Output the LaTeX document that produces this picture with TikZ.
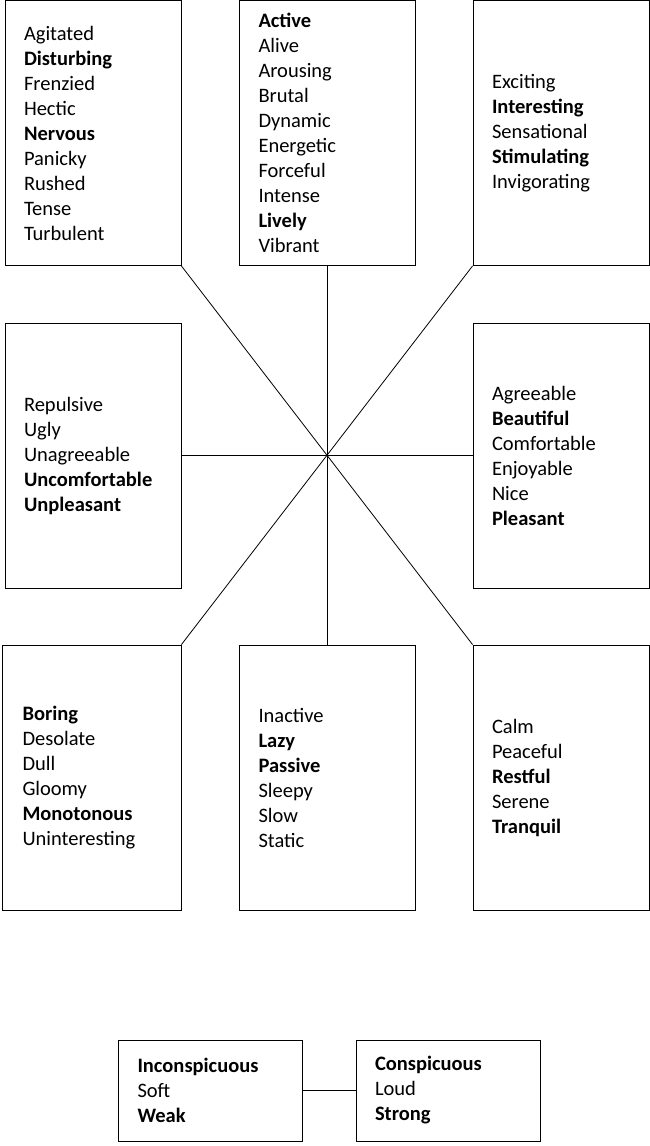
\documentclass[tikz,border=0pt]{standalone}
\usepackage{fontspec}
\setmainfont{Carlito}
\usepackage{tikz}
\usetikzlibrary{positioning}
\tikzstyle{wordbox} = [rectangle, draw=black, thick, inner sep=0pt, align=left, font=\fontsize{20.5}{25}\selectfont]
\tikzstyle{tall} = [wordbox, minimum width=176pt, minimum height=265pt, text width=138pt]
\tikzstyle{short} = [wordbox, minimum width=184pt, minimum height=101pt, text width=146pt]
\tikzstyle{link} = [thick, draw=black]

\begin{document}
\begin{tikzpicture}[x=1pt,y=-1pt]
        \useasboundingbox (0,0) rectangle (650,1146);
        % Top row
        \node (tl) [tall] at (93,133) {Agitated\\\textbf{Disturbing}\\Frenzied\\Hectic\\\textbf{Nervous}\\Panicky\\Rushed\\Tense\\Turbulent};
        \node (tm) [tall] at (327.5,133) {\textbf{Active}\\Alive\\Arousing\\Brutal\\Dynamic\\Energetic\\Forceful\\Intense\\\textbf{Lively}\\Vibrant};
        \node (tr) [tall] at (561,133) {Exciting\\\textbf{Interesting}\\Sensational\\\textbf{Stimulating}\\Invigorating};
        % Middle row
        \node (ml) [tall] at (93,455.5) {Repulsive\\Ugly\\Unagreeable\\\textbf{Uncomfortable}\\\textbf{Unpleasant}};
        \node (mr) [tall] at (561,455.5) {Agreeable\\\textbf{Beautiful}\\Comfortable\\Enjoyable\\Nice\\\textbf{Pleasant}};
        % Bottom row
        \node (bl) [tall, minimum width=179pt] at (91.5,777.5) {\textbf{Boring}\\Desolate\\Dull\\Gloomy\\\textbf{Monotonous}\\Uninteresting};
        \node (bm) [tall] at (327.5,777.5) {Inactive\\\textbf{Lazy}\\\textbf{Passive}\\Sleepy\\Slow\\Static};
        \node (br) [tall] at (561,777.5) {Calm\\Peaceful\\\textbf{Restful}\\Serene\\\textbf{Tranquil}};
        % Separate pair
        \node (weak) [short] at (210.5,1090.5) {\textbf{Inconspicuous}\\Soft\\\textbf{Weak}};
        \node (strong) [short] at (448,1090.5) {\textbf{Conspicuous}\\Loud\\\textbf{Strong}};

        % Spokes
        \draw [link] (tm.south) -- (bm.north);
        \draw [link] (ml.east) -- (mr.west);
        \draw [link] (tl.south east) -- (br.north west);
        \draw [link] (tr.south west) -- (bl.north east);
        \draw [link] (weak) -- (strong);
    \end{tikzpicture}
\end{document}
